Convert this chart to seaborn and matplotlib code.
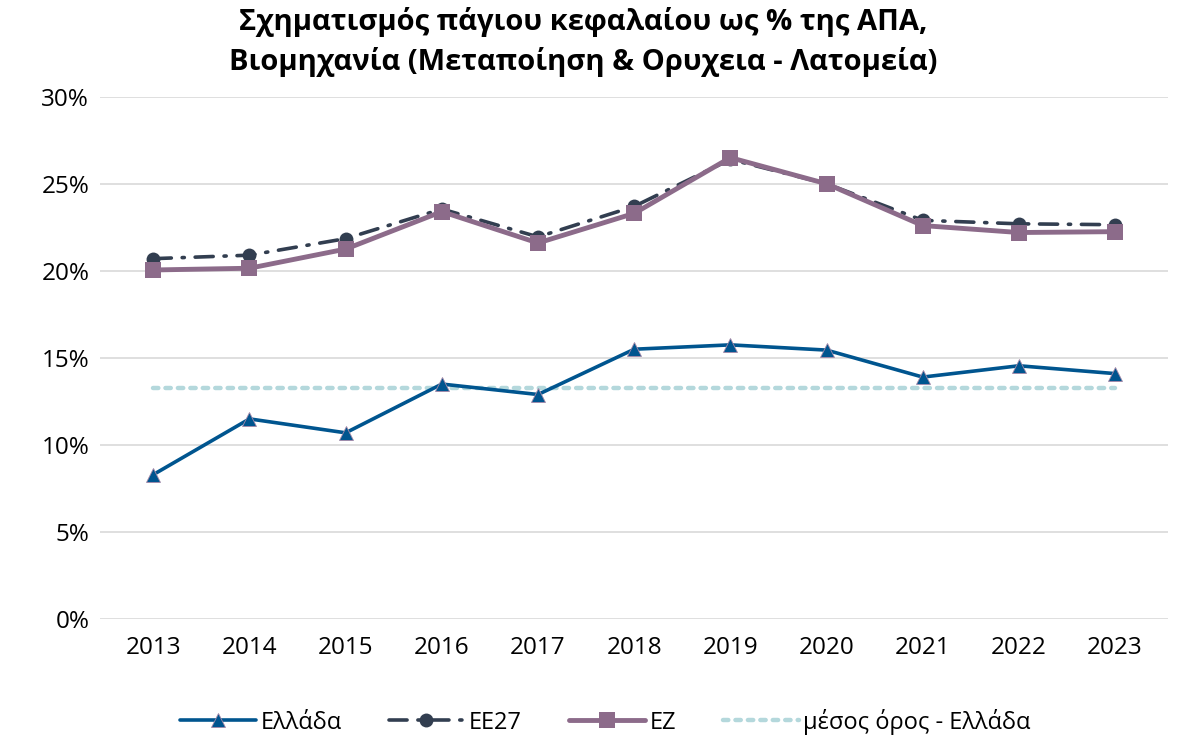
import numpy as np
import pandas as pd
import matplotlib
matplotlib.use("Agg")
import matplotlib.pyplot as plt
import seaborn as sns
from matplotlib.ticker import FuncFormatter

years = ["2013", "2014", "2015", "2016", "2017", "2018", "2019", "2020", "2021", "2022", "2023"]
greece = [8.3, 11.5, 10.7, 13.5, 12.9, 15.5, 15.75, 15.45, 13.9, 14.55, 14.1]
eu27 = [20.7, 20.9, 21.85, 23.55, 21.95, 23.7, 26.4, 25.0, 22.9, 22.7, 22.65]
ez = [20.05, 20.15, 21.25, 23.4, 21.6, 23.3, 26.5, 25.0, 22.6, 22.2, 22.25]
greece_avg = 13.3

df = pd.DataFrame({"year": years, "Ελλάδα": greece, "ΕΕ27": eu27, "ΕΖ": ez})
df["x"] = np.arange(len(years))
df["avg"] = greece_avg

sns.set_theme(style="white")
plt.rcParams["font.family"] = ["Open Sans", "DejaVu Sans"]
plt.rcParams["text.color"] = "black"

fig = plt.figure(figsize=(11.81, 7.38), dpi=100)
ax = fig.add_axes([0.085, 0.161, 0.904, 0.708])

sns.lineplot(data=df, x="x", y="avg", ax=ax, color="#B4D8DC", linewidth=3.2,
             label="μέσος όρος - Ελλάδα", zorder=1)
ax.lines[-1].set_dashes((1.2, 1.6))
ax.lines[-1].set_dash_capstyle("round")

sns.lineplot(data=df, x="x", y="ΕΕ27", ax=ax, color="#323E50", linewidth=2.6,
             marker="o", markersize=10, markeredgewidth=0, label="ΕΕ27", zorder=2)
ax.lines[-1].set_dashes((5, 3, 0.6, 3))
ax.lines[-1].set_dash_capstyle("round")

sns.lineplot(data=df, x="x", y="ΕΖ", ax=ax, color="#8C6B8A", linewidth=3.5,
             marker="s", markersize=12, markeredgewidth=0, label="ΕΖ", zorder=3)

sns.lineplot(data=df, x="x", y="Ελλάδα", ax=ax, color="#00558F", linewidth=2.6,
             marker="^", markersize=10, markeredgecolor="#A688A8", markeredgewidth=0.6,
             label="Ελλάδα", zorder=4)

ax.set_xlim(-0.55, 10.55)
ax.set_ylim(0, 30)
ax.set_xticks(df["x"])
ax.set_xticklabels(years)
ax.set_yticks(range(0, 31, 5))
ax.yaxis.set_major_formatter(FuncFormatter(lambda v, p: f"{int(v)}%"))
ax.tick_params(axis="both", labelsize=17.5, length=0, colors="#000000")
ax.tick_params(axis="x", pad=12)
ax.tick_params(axis="y", pad=8)
ax.set_xlabel("")
ax.set_ylabel("")
ax.grid(axis="y", color="#D9D9D9", linewidth=1.2)
ax.set_axisbelow(True)
for s in ax.spines.values():
    s.set_visible(False)

handles, labels = ax.get_legend_handles_labels()
order = ["Ελλάδα", "ΕΕ27", "ΕΖ", "μέσος όρος - Ελλάδα"]
h = [handles[labels.index(o)] for o in order]
ax.legend(h, order, loc="center", bbox_to_anchor=(0.473, -0.196), ncol=4,
          frameon=False, fontsize=17, handlelength=3.2, columnspacing=2.0,
          handletextpad=0.2, labelcolor="black")

fig.suptitle("Σχηματισμός πάγιου κεφαλαίου ως % της ΑΠΑ,\nΒιομηχανία (Μεταποίηση & Ορυχεια - Λατομεία)",
             x=0.494, y=0.99, fontsize=21, fontweight="bold", linespacing=1.4,
             color="black")

fig.savefig("out.png", dpi=100)
